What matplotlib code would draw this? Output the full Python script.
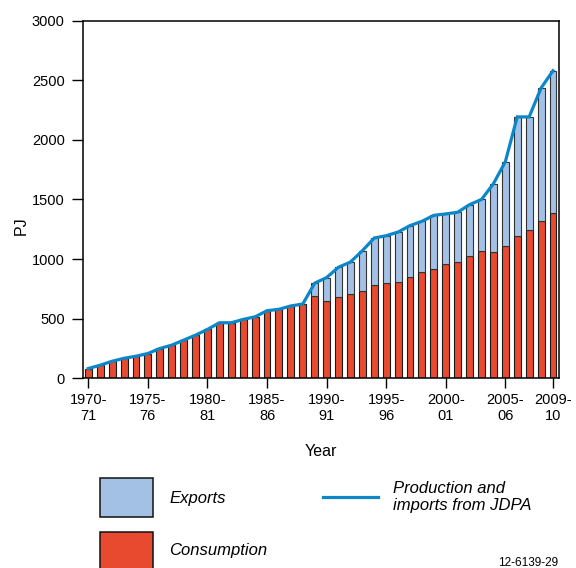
import matplotlib
matplotlib.use("Agg")
import matplotlib.pyplot as plt
from matplotlib.patches import Rectangle
from matplotlib.lines import Line2D

plt.rcParams["font.family"] = ["Liberation Sans", "DejaVu Sans"]

# Años fiscales 1970-71 ... 2009-10
years = [f"{y}-{str(y + 1)[-2:]}" for y in range(1970, 2010)]

consumption = [82, 110, 143, 168, 185, 208, 250, 278, 320, 362,
               410, 466, 466, 494, 516, 567, 579, 607, 623, 694,
               651, 680, 708, 736, 786, 798, 812, 854, 893, 918,
               960, 977, 1028, 1070, 1056, 1106, 1190, 1241, 1323, 1387]

exports = [0, 0, 0, 0, 0, 0, 0, 0, 0, 0,
           0, 0, 0, 0, 0, 0, 0, 0, 0, 104,
           194, 252, 267, 334, 391, 398, 415, 427, 424, 449,
           419, 416, 429, 430, 576, 711, 1003, 952, 1112, 1193]

production = [82, 110, 143, 168, 185, 208, 250, 278, 320, 362,
              410, 466, 466, 494, 516, 567, 579, 607, 623, 798,
              845, 932, 975, 1070, 1177, 1196, 1227, 1281, 1317, 1367,
              1379, 1393, 1457, 1500, 1632, 1817, 2193, 2193, 2435, 2580]

tick_idx = [0, 5, 10, 15, 20, 25, 30, 35, 39]
tick_labels = ["1970-\n71", "1975-\n76", "1980-\n81", "1985-\n86", "1990-\n91",
               "1995-\n96", "2000-\n01", "2005-\n06", "2009-\n10"]

RED = "#E84A2F"
LIGHT_BLUE = "#A3C1E5"
LINE_BLUE = "#0B86C8"

W, H = 576, 568
fig = plt.figure(figsize=(W / 100, H / 100), dpi=100)
ax = fig.add_axes([82.7 / W, 1 - 378.3 / H, (558.7 - 82.7) / W, (378.3 - 20.7) / H])

x = list(range(len(years)))
ax.bar(x, consumption, width=0.58, color=RED, edgecolor="#1a1a1a", linewidth=0.8, zorder=2)
ax.bar(x, exports, width=0.58, bottom=consumption, color=LIGHT_BLUE,
       edgecolor="#333333", linewidth=0.8, zorder=2)
ax.plot(x, production, color=LINE_BLUE, linewidth=2.3, zorder=3, solid_joinstyle="miter")

ax.set_xlim(-0.47, 39.48)
ax.set_ylim(0, 3000)
ax.set_yticks(range(0, 3001, 500))
ax.set_xticks(tick_idx)
ax.set_xticklabels(tick_labels, linespacing=1.15)
ax.tick_params(axis="y", direction="out", length=8, width=1, pad=5, labelsize=10.5)
ax.tick_params(axis="x", direction="out", length=7.5, width=1, pad=3, labelsize=10.5)
for s in ax.spines.values():
    s.set_linewidth(1.1)

fig.text(321 / W, 1 - 451 / H, "Year", ha="center", va="center", fontsize=11.5)
fig.text(21 / W, 1 - 226 / H, "PJ", ha="center", va="center", rotation=90, fontsize=11.5)

# Leyenda dibujada a mano debajo del gráfico
def box(x0, y0, x1, y1, color):
    fig.add_artist(Rectangle((x0 / W, 1 - y1 / H), (x1 - x0) / W, (y1 - y0) / H,
                             transform=fig.transFigure, facecolor=color,
                             edgecolor="#111111", linewidth=1.1))

box(100, 478, 153, 517, LIGHT_BLUE)
box(100, 532, 153, 572, RED)
fig.add_artist(Line2D([323 / W, 378 / W], [1 - 497 / H, 1 - 497 / H],
                      transform=fig.transFigure, color=LINE_BLUE, linewidth=2.3))

fig.text(169 / W, 1 - 498 / H, "Exports", style="italic", va="center", fontsize=12)
fig.text(169 / W, 1 - 550 / H, "Consumption", style="italic", va="center", fontsize=12)
fig.text(393 / W, 1 - 497 / H, "Production and\nimports from JDPA", style="italic",
         va="center", fontsize=12, linespacing=1.1)
fig.text(558 / W, 1 - 563 / H, "12-6139-29", ha="right", va="center", fontsize=8.5)

fig.savefig("out.png", dpi=100)
